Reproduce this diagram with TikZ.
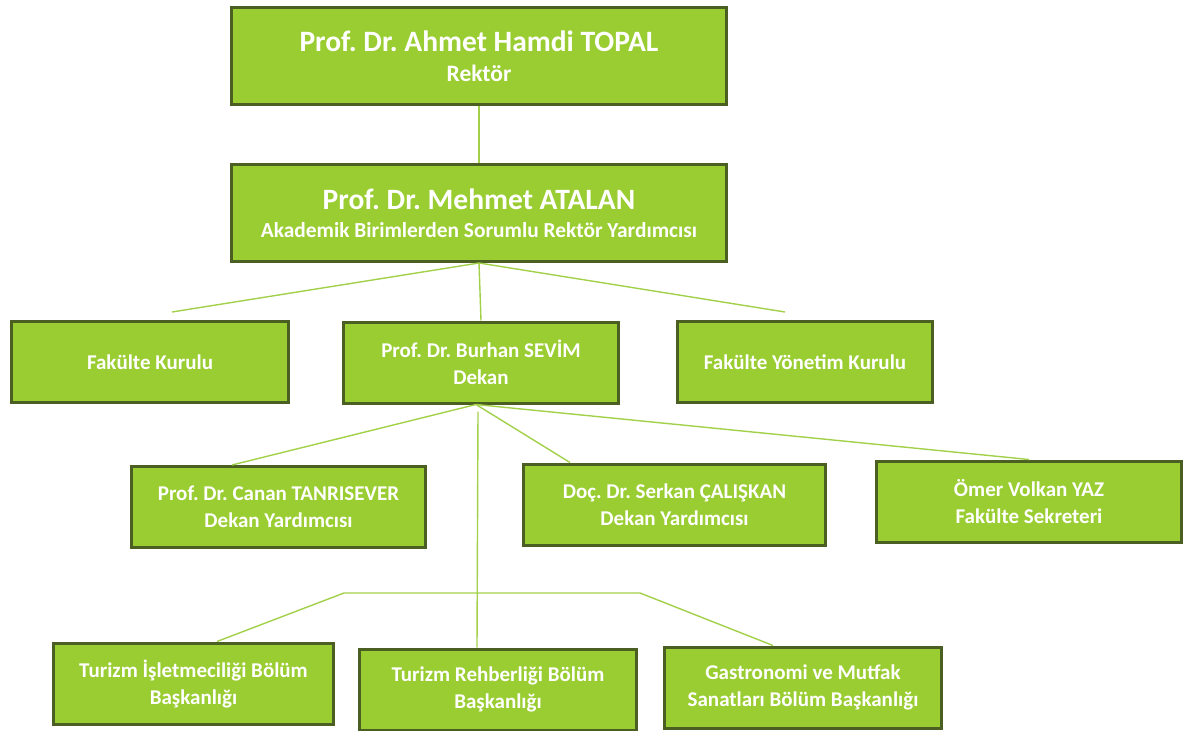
\documentclass[tikz,border=0pt]{standalone}
\usepackage{fontspec}
\setmainfont{Carlito}
\frenchspacing
\usetikzlibrary{calc}
\definecolor{boxfill}{HTML}{9ACD32}
\definecolor{boxline}{HTML}{4B5F22}
\definecolor{linkcol}{HTML}{A2D149}
\newcommand{\headsize}{\fontsize{29.5}{33}\selectfont}
\newcommand{\rolesize}{\fontsize{23.5}{28}\selectfont}
\newcommand{\deputysize}{\fontsize{21.4}{26}\selectfont}
\newcommand{\midsize}{\fontsize{21}{27}\selectfont}
\tikzset{
  base/.style={align=center, font=\bfseries\midsize, text=white},
  unit/.style={base, rectangle, draw=boxline, fill=boxfill, line width=3pt, inner sep=2pt},
  top/.style={unit, minimum width=495pt, minimum height=97pt},
  mid/.style={unit, minimum height=81pt},
  link/.style={draw=linkcol, line width=1.4pt}
}

\begin{document}
\begin{tikzpicture}[x=1pt, y=-1pt]
  \useasboundingbox (0,0) rectangle (1203,731);

  % Top Rows: Rectorate
  \node[top] (rektor) at (479,56) {\headsize Prof. Dr. Ahmet Hamdi TOPAL\\[3pt]\rolesize Rektör};
  \node[top] (atalan) at (479,213) {\headsize Prof. Dr. Mehmet ATALAN\\[1pt]\deputysize Akademik Birimlerden Sorumlu Rektör Yardımcısı};

  % Faculty Row
  \node[mid, minimum width=277pt] (kurul) at (150,362) {Fakülte Kurulu};
  \node[mid, minimum width=275pt] (dekan) at (481,362.5) {Prof. Dr. Burhan SEVİM\\Dekan};
  \node[mid, minimum width=255pt] (yonetim) at (805,362) {Fakülte Yönetim Kurulu};

  % Deanery Row
  \node[mid, minimum width=294pt] (canan) at (278.5,507) {Prof. Dr. Canan TANRISEVER\\Dekan Yardımcısı};
  \node[mid, minimum width=302pt] (serkan) at (674.5,504.5) {Doç. Dr. Serkan ÇALIŞKAN\\Dekan Yardımcısı};
  \node[mid, minimum width=305pt] (omer) at (1029,501.5) {Ömer Volkan YAZ\\Fakülte Sekreteri};

  % Bottom: Departments
  \node[mid, minimum width=280pt] (isletme) at (193.5,683.5) {Turizm İşletmeciliği Bölüm\\Başkanlığı};
  \node[mid, minimum width=277pt] (rehber) at (498,689.5) {Turizm Rehberliği Bölüm\\Başkanlığı};
  \node[mid, minimum width=277pt] (gastro) at (803,687.5) {Gastronomi ve Mutfak\\Sanatları Bölüm Başkanlığı};

  % Free ends
  \coordinate (kurultip) at (172,312);
  \coordinate (yonetimtip) at (785,312);
  \coordinate (bolumleft) at (344,593);
  \coordinate (bolumright) at (640,593);

  % Edges
  \draw[link] (rektor) -- (atalan);
  \draw[link] (atalan.south) -- (kurultip);
  \draw[link] (atalan.south) -- (dekan.north);
  \draw[link] (atalan.south) -- (yonetimtip);

  \draw[link] ($(dekan.south)+(-5,0)$) -- ($(canan.north)+(-46.5,0)$);
  \draw[link] ($(dekan.south)+(-5,0)$) -- ($(serkan.north)+(-104.5,0)$);
  \draw[link] ($(dekan.south)+(-5,0)$) -- (omer.north);
  \draw[link] ($(dekan.south)+(-3,7)$) -- ($(rehber.north)+(-21,0)$);

  \draw[link] ($(isletme.north)+(23.5,0)$) -- (bolumleft) -- (bolumright) -- ($(gastro.north)+(-30,0)$);

\end{tikzpicture}
\end{document}
